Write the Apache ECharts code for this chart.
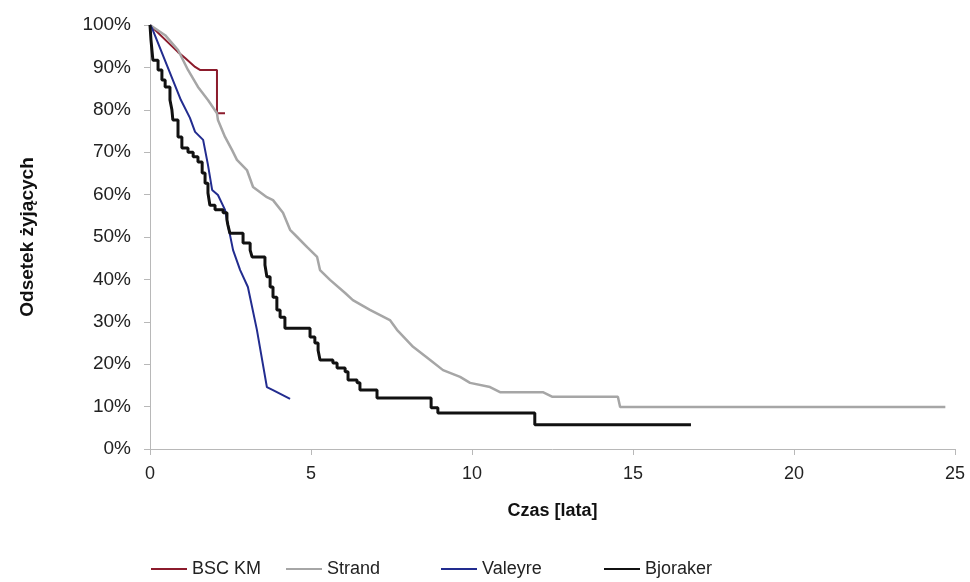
<!DOCTYPE html>
<html>
<head>
<meta charset="utf-8">
<script src="https://cdn.jsdelivr.net/npm/echarts@6/dist/echarts.min.js"></script>
<style>
  html, body { margin: 0; padding: 0; background: #fff; }
  #chart { width: 970px; height: 582px; }
</style>
</head>
<body>
<div id="chart"></div>
<script>
// time in years, survival in %
const bscTime = [0, 0.87, 1.09, 1.40, 1.55, 2.08, 2.08, 2.33];
const bscSurv = [100, 93.6, 92.2, 90.1, 89.4, 89.4, 79.2, 79.2];

const strandTime = [0, 0.06, 0.47, 0.87, 1.18, 1.49, 1.80, 2.08, 2.11, 2.33, 2.55, 2.70, 3.01, 3.20, 3.63, 3.82, 4.13, 4.35, 4.57, 4.88, 5.19, 5.28, 5.59, 6.06, 6.30, 6.83, 7.45, 7.67, 8.17, 8.70, 9.10, 9.63, 9.94, 10.56, 10.87, 12.2, 12.5, 14.53, 14.6, 24.7];
const strandSurv = [100, 100, 97.6, 94.1, 89.4, 85.4, 82.3, 79.2, 77.6, 73.6, 70.5, 68.2, 65.8, 61.8, 59.4, 58.7, 55.7, 51.7, 50.0, 47.6, 45.3, 42.2, 39.9, 36.8, 35.1, 32.8, 30.4, 28.1, 24.1, 21.0, 18.6, 17.0, 15.6, 14.6, 13.4, 13.4, 12.3, 12.3, 9.9, 9.9];

const valeyreTime = [0, 0.06, 0.96, 1.24, 1.40, 1.65, 1.80, 1.93, 2.11, 2.33, 2.39, 2.58, 2.80, 3.04, 3.32, 3.63, 3.82, 4.35];
const valeyreSurv = [100, 99.3, 82.3, 78.1, 74.8, 72.9, 67.0, 61.1, 59.9, 56.4, 54.0, 46.9, 42.2, 38.2, 28.1, 14.6, 13.9, 11.8];

const bjorakerTime = [0, 0.03, 0.09, 0.25, 0.37, 0.47, 0.62, 0.68, 0.71, 0.87, 0.99, 1.18, 1.34, 1.49, 1.62, 1.71, 1.80, 1.86, 2.02, 2.27, 2.39, 2.42, 2.48, 2.89, 3.11, 3.17, 3.57, 3.63, 3.73, 3.82, 3.94, 4.04, 4.19, 4.97, 5.12, 5.22, 5.28, 5.68, 5.81, 6.06, 6.15, 6.43, 6.52, 7.05, 8.73, 8.94, 11.95, 16.8];
const bjorakerSurv = [100, 96.5, 91.7, 89.4, 87.0, 85.4, 82.3, 80.0, 77.6, 73.6, 71.0, 70.0, 68.9, 67.7, 65.1, 62.7, 60.4, 57.5, 56.4, 55.7, 54.0, 52.8, 50.9, 48.6, 46.9, 45.3, 43.4, 40.6, 38.2, 35.8, 32.8, 31.1, 28.5, 26.4, 25.0, 23.3, 21.0, 20.3, 19.1, 18.2, 16.3, 15.6, 13.9, 12.0, 9.7, 8.5, 5.7, 5.7];

function pairs(xs, ys) {
  let out = [];
  for (let i = 0; i < xs.length; i++) {
    out.push([xs[i], ys[i]]);
  }
  return out;
}

const font = "'Liberation Sans', Arial, sans-serif";
const axisGray = '#b8b8b8';

let myChart = echarts.init(document.getElementById('chart'));
let legendBase = {
  top: 555,
  itemWidth: 36,
  itemHeight: 2,
  icon: 'rect',
  textStyle: { fontFamily: font, fontSize: 18, color: '#222' }
};
let option = {
  animation: false,
  backgroundColor: '#fff',
  grid: { left: 150, right: 15, top: 25, bottom: 133 },
  legend: [
    Object.assign({ data: ['BSC KM'], left: 146 }, legendBase),
    Object.assign({ data: ['Strand'], left: 281 }, legendBase),
    Object.assign({ data: ['Valeyre'], left: 436 }, legendBase),
    Object.assign({ data: ['Bjoraker'], left: 599 }, legendBase)
  ],
  xAxis: {
    type: 'value',
    min: 0,
    max: 25,
    interval: 5,
    name: 'Czas [lata]',
    nameLocation: 'middle',
    nameGap: 53,
    nameTextStyle: { fontFamily: font, fontSize: 18, fontWeight: 'bold', color: '#111' },
    axisLine: { lineStyle: { color: axisGray, width: 1 } },
    axisTick: { length: 6, lineStyle: { color: axisGray } },
    axisLabel: { fontFamily: font, fontSize: 18, color: '#222', margin: 16 },
    splitLine: { show: false }
  },
  yAxis: {
    type: 'value',
    min: 0,
    max: 100,
    interval: 10,
    name: 'Odsetek żyjących',
    nameLocation: 'middle',
    nameRotate: 90,
    nameGap: 113,
    nameTextStyle: { fontFamily: font, fontSize: 19, fontWeight: 'bold', color: '#111' },
    axisLine: { show: true, lineStyle: { color: axisGray, width: 1 } },
    axisTick: { show: true, length: 6, lineStyle: { color: axisGray } },
    axisLabel: { fontFamily: font, fontSize: 19, color: '#222', margin: 19, formatter: '{value}%' },
    splitLine: { show: false }
  },
  series: [
    {
      name: 'BSC KM',
      type: 'line',
      showSymbol: false,
      color: '#8c1b2c',
      lineStyle: { width: 2, color: '#8c1b2c' },
      data: pairs(bscTime, bscSurv)
    },
    {
      name: 'Strand',
      type: 'line',
      showSymbol: false,
      color: '#a6a6a6',
      lineStyle: { width: 2.5, color: '#a6a6a6' },
      data: pairs(strandTime, strandSurv)
    },
    {
      name: 'Valeyre',
      type: 'line',
      showSymbol: false,
      color: '#222c8f',
      lineStyle: { width: 2, color: '#222c8f' },
      data: pairs(valeyreTime, valeyreSurv)
    },
    {
      name: 'Bjoraker',
      type: 'line',
      step: 'end',
      showSymbol: false,
      color: '#111',
      lineStyle: { width: 3, color: '#111' },
      data: pairs(bjorakerTime, bjorakerSurv)
    }
  ]
};
myChart.setOption(option);
</script>
</body>
</html>
